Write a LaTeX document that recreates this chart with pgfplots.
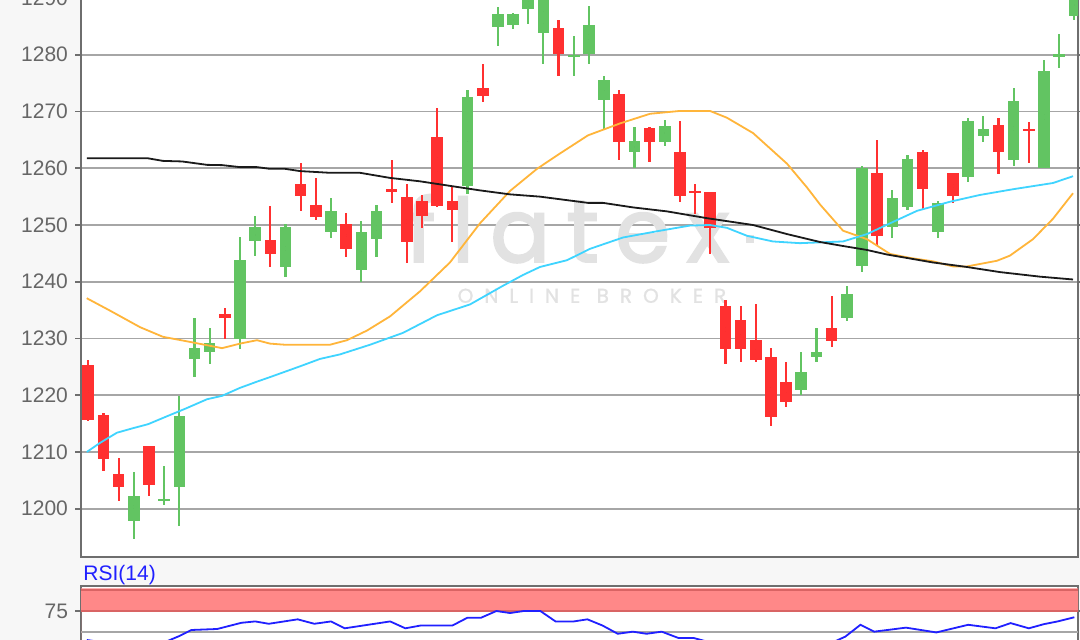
\documentclass[border=0pt]{standalone}
\usepackage{pgfplots}
\pgfplotsset{compat=1.18}
\usepackage{pgfplotstable}
\usepackage{fontspec}
\setmainfont{Liberation Sans}
\newfontfamily\wmfont[LetterSpace=19, FakeBold=2.5]{Poppins}
\newfontfamily\wmsmall[LetterSpace=55, FakeBold=1]{Poppins}
\definecolor{bg}{HTML}{F7F7F7}
\definecolor{gridc}{HTML}{A6A6A6}
\definecolor{axc}{HTML}{6E6E6E}
\definecolor{lab}{HTML}{666666}
\definecolor{cgreen}{HTML}{62C462}
\definecolor{cred}{HTML}{FF3030}
\definecolor{maorange}{HTML}{FFB53A}
\definecolor{macyan}{HTML}{3FD4FF}
\definecolor{mablack}{HTML}{1A1A1A}
\definecolor{rsiblue}{HTML}{2020FF}
\definecolor{band}{HTML}{FF8888}
\definecolor{bandline}{HTML}{D96464}
\definecolor{wm}{HTML}{E2E2E2}

\pgfplotstableread{
i o h l c
0 1225.4 1226.2 1215.4 1215.7
1 1216.6 1216.9 1206.6 1208.8
2 1206.1 1208.95 1201.3 1203.9
4 1211.0 1211.0 1202.3 1204.2
9 1234.3 1235.4 1230.0 1233.7
12 1247.3 1253.3 1242.6 1244.9
14 1257.2 1261.0 1252.4 1255.1
15 1253.6 1258.3 1250.9 1251.4
17 1250.1 1252.2 1244.3 1245.7
20 1256.4 1261.4 1253.8 1255.8
21 1255.0 1257.2 1243.4 1247.0
22 1254.3 1255.3 1249.5 1251.6
23 1265.6 1270.6 1253.2 1253.4
24 1254.3 1256.9 1247.0 1252.7
26 1274.1 1278.3 1271.7 1272.8
31 1284.7 1286.2 1276.3 1280.2
35 1273.1 1273.8 1261.5 1264.6
37 1267.1 1267.3 1261.2 1264.6
39 1262.8 1268.4 1254.1 1255.1
40 1256.0 1257.2 1251.9 1255.6
41 1255.8 1255.8 1244.9 1249.4
42 1235.8 1236.8 1225.6 1228.1
43 1233.2 1235.7 1225.9 1228.1
44 1229.7 1236.1 1225.9 1226.3
45 1226.8 1228.3 1214.6 1216.1
46 1222.3 1225.8 1217.9 1218.8
49 1231.9 1237.5 1228.5 1229.5
52 1259.2 1265.0 1246.5 1248.1
55 1262.8 1263.2 1252.6 1256.3
57 1259.2 1259.2 1253.9 1255.1
60 1267.7 1268.9 1259.0 1262.9
62 1267.0 1268.1 1261.0 1266.5
}\reddata

\pgfplotstableread{
i o h l c
3 1197.9 1206.4 1194.6 1202.2
5 1201.3 1207.5 1200.6 1201.8
6 1203.9 1219.8 1197.0 1216.3
7 1226.4 1233.6 1223.2 1228.3
8 1227.6 1231.9 1225.6 1229.3
10 1230.0 1247.8 1228.1 1243.8
11 1247.1 1251.6 1244.6 1249.7
13 1242.6 1250.1 1240.9 1249.7
16 1248.8 1254.7 1247.8 1252.5
18 1242.1 1250.7 1240.0 1248.7
19 1247.5 1253.6 1244.3 1252.5
25 1256.8 1273.8 1255.5 1272.6
27 1284.9 1288.5 1281.6 1287.1
28 1285.2 1287.4 1284.5 1287.1
29 1288.1 1291.5 1285.5 1290.8
30 1283.8 1292.5 1278.4 1291.5
32 1279.6 1283.3 1276.3 1280.0
33 1280.1 1288.6 1278.4 1285.3
34 1272.1 1276.2 1266.7 1275.5
36 1262.9 1267.3 1260.0 1264.9
38 1264.6 1268.5 1264.0 1267.5
47 1221.0 1227.6 1220.0 1224.1
48 1226.7 1231.9 1225.9 1227.6
50 1233.7 1239.3 1233.0 1237.8
51 1242.7 1260.4 1241.8 1260.1
53 1249.7 1256.1 1247.8 1254.7
54 1253.1 1262.4 1252.6 1261.7
56 1248.8 1254.3 1247.8 1253.9
58 1258.4 1268.9 1257.5 1268.4
59 1265.7 1269.2 1264.6 1267.0
61 1261.5 1274.2 1260.4 1271.9
63 1260.0 1279.1 1260.0 1277.2
64 1279.6 1283.7 1277.7 1280.1
65 1286.8 1291.5 1286.2 1290.5
}\greendata

\pgfplotstableread{
i v
-0.1 1261.75
3.94 1261.75
4.92 1261.3
6.18 1261.2
7.83 1260.6
8.82 1260.55
10.0 1260.2
11.12 1260.2
11.98 1259.9
12.97 1259.9
13.96 1259.5
15.93 1259.2
17.91 1259.2
19.89 1258.3
21.86 1257.7
23.84 1256.9
25.82 1256.1
27.8 1255.4
29.77 1255.0
32.94 1253.9
33.93 1253.9
35.91 1253.1
38.15 1252.4
40.79 1251.2
43.82 1250.0
46.06 1248.4
48.24 1247.0
49.75 1246.3
51.33 1245.6
52.65 1244.8
55.68 1243.4
57.92 1242.6
60.1 1241.7
62.73 1240.9
64.91 1240.4
}\mablackdata

\pgfplotstableread{
i v
-0.1 1237.1
1.44 1234.9
3.41 1232.0
4.92 1230.3
6.51 1229.5
8.82 1228.3
10.0 1229.1
11.12 1229.7
11.98 1229.1
12.97 1228.9
15.93 1228.9
17.05 1229.7
18.37 1231.4
19.89 1233.9
21.86 1238.3
23.84 1243.4
25.82 1250.3
27.8 1256.0
29.58 1259.9
31.09 1262.6
32.94 1265.8
35.05 1267.9
37.03 1269.6
39.0 1270.1
40.98 1270.1
42.1 1268.9
43.82 1266.2
46.06 1260.8
47.38 1256.6
48.24 1253.6
49.75 1249.0
51.33 1247.5
52.85 1244.9
54.17 1244.2
55.68 1243.6
57.0 1242.7
57.92 1242.7
59.9 1243.7
60.75 1244.6
62.27 1247.5
63.59 1251.1
64.91 1255.6
}\maorangedata

\pgfplotstableread{
i v
-0.1 1210.0
0.77 1211.6
1.89 1213.4
2.95 1214.2
3.94 1214.9
5.19 1216.3
6.37 1217.6
7.83 1219.3
8.82 1219.9
10.0 1221.3
11.12 1222.4
11.98 1223.2
13.96 1225.1
15.27 1226.4
16.59 1227.2
18.57 1228.9
20.75 1231.0
22.99 1234.1
25.16 1236.0
27.34 1239.3
28.66 1241.2
29.77 1242.6
31.56 1243.8
33.07 1245.8
35.25 1247.8
37.49 1248.9
39.66 1249.9
40.98 1250.0
42.1 1249.5
43.42 1248.1
45.13 1247.1
46.91 1246.8
49.75 1247.1
51.33 1248.4
52.85 1250.3
54.63 1252.5
56.8 1254.1
58.78 1255.3
60.95 1256.3
63.59 1257.4
64.91 1258.6
}\macyandata

\pgfplotstableread{
i v
-0.1 40.5
1 37.6
3 36.5
5 37.6
6 45.2
6.8 52.4
8.5 53.6
10.1 61.0
11 62.6
11.9 59.8
13.8 65.1
14.9 59.8
16 62.6
16.9 54.4
19.9 62.6
20.9 54.4
21.9 57.7
24 57.7
25 67.1
25.9 67.1
26.9 75
27.8 72.6
28.7 75
29.8 75
30.8 62.6
32 62.6
32.9 65.1
33.9 57.7
34.9 47.9
35.9 50.4
36.8 47.9
37.8 50.4
38.9 42.9
39.9 42.9
41.1 37.1
42 31
43 30
44 28
45 23
46 25
47 30
48 34
49 37.1
49.9 44.5
50.9 58.6
51.8 50.4
53.9 55.2
55.9 49.5
58 58.6
59.8 54.4
60.8 60.6
62 54.4
63 59.4
63.9 62.6
65 67.6
}\rsidata

\pgfplotsset{candle/.style={only marks, mark=*, mark size=0pt, mark options={draw=none, fill=none},
  error bars/.cd, y dir=both, y explicit, error mark=none}}

\begin{document}
\begin{tikzpicture}
\path[use as bounding box] (0,0) rectangle (540pt,320pt);
\fill[bg] (0,0) rectangle (540pt,320pt);
\clip (0,0) rectangle (540pt,320pt);
\begin{axis}[
  at={(40.5pt,41.5pt)}, anchor=south west,
  width=498.5pt, height=288pt, scale only axis,
  xmin=-0.48, xmax=65.24, ymin=1191.5, ymax=1293,
  xtick=\empty,
  ytick={1200,1210,...,1290},
  ymajorgrids,
  grid style={line width=0.9pt, color=gridc},
  axis line style={line width=1.1pt, color=axc},
  tick align=outside, major tick length=3pt,
  ytick style={line width=0.9pt, color=axc},
  yticklabel style={font=\fontsize{10.5}{12}\selectfont, text=lab},
  /pgf/number format/assume math mode=true,
  /pgf/number format/1000 sep={},
  axis background/.style={fill=white},
]
\node[font=\wmfont\fontsize{44}{44}\selectfont, text=wm, anchor=base, inner sep=0pt] at (axis cs:31.6,1243.5) {flatex};
\node[fill=wm, minimum size=4pt, inner sep=0pt] at (axis cs:43.6,1247.5) {};
\node[font=\wmsmall\fontsize{10}{10}\selectfont, text=wm, anchor=base] at (axis cs:33.2,1236.3) {ONLINE BROKER};
% wicks
\addplot[candle, error bar style={line width=1.1pt, draw=cred}]
  table[x=i, y expr={(\thisrow{h}+\thisrow{l})/2}, y error expr={(\thisrow{h}-\thisrow{l})/2}] {\reddata};
\addplot[candle, error bar style={line width=1.1pt, draw=cgreen}]
  table[x=i, y expr={(\thisrow{h}+\thisrow{l})/2}, y error expr={(\thisrow{h}-\thisrow{l})/2}] {\greendata};
% bodies
\addplot[candle, error bar style={line width=5.8pt, draw=cred}]
  table[x=i, y expr={(\thisrow{o}+\thisrow{c})/2}, y error expr={abs(\thisrow{o}-\thisrow{c})/2}] {\reddata};
\addplot[candle, error bar style={line width=5.8pt, draw=cgreen}]
  table[x=i, y expr={(\thisrow{o}+\thisrow{c})/2}, y error expr={abs(\thisrow{o}-\thisrow{c})/2}] {\greendata};
% moving averages
\addplot[maorange, line width=0.9pt, mark=none] table[x=i, y=v] {\maorangedata};
\addplot[macyan, line width=0.9pt, mark=none] table[x=i, y=v] {\macyandata};
\addplot[mablack, line width=0.9pt, mark=none] table[x=i, y=v] {\mablackdata};
\end{axis}

\node[anchor=base west, inner sep=0pt, text=rsiblue, font=\fontsize{10.5}{12}\selectfont] at (41.5pt,29.5pt) {RSI(14)};

\begin{axis}[
  at={(40.5pt,-17pt)}, anchor=south west,
  width=498.5pt, height=44pt, scale only axis,
  xmin=-0.48, xmax=65.24, ymin=0, ymax=104.8,
  xtick=\empty,
  ytick={75},
  extra y ticks={50}, extra y tick labels={},
  extra y tick style={grid=major, major tick length=0pt},
  grid style={line width=0.9pt, color=gridc},
  axis line style={line width=1.1pt, color=axc},
  tick align=outside, major tick length=3pt,
  ytick style={line width=0.9pt, color=axc},
  yticklabel style={font=\fontsize{10.5}{12}\selectfont, text=lab},
  /pgf/number format/assume math mode=true,
  axis background/.style={fill=white},
]
\addplot[draw=none, fill=band] coordinates {(-0.48,74) (65.24,74) (65.24,102) (-0.48,102)} \closedcycle;
\addplot[bandline, line width=0.8pt, mark=none] coordinates {(-0.48,75) (65.24,75)};
\addplot[bandline, line width=0.8pt, mark=none] coordinates {(-0.48,100) (65.24,100)};
\addplot[rsiblue, line width=0.9pt, mark=none] table[x=i, y=v] {\rsidata};
\end{axis}
\end{tikzpicture}
\end{document}
